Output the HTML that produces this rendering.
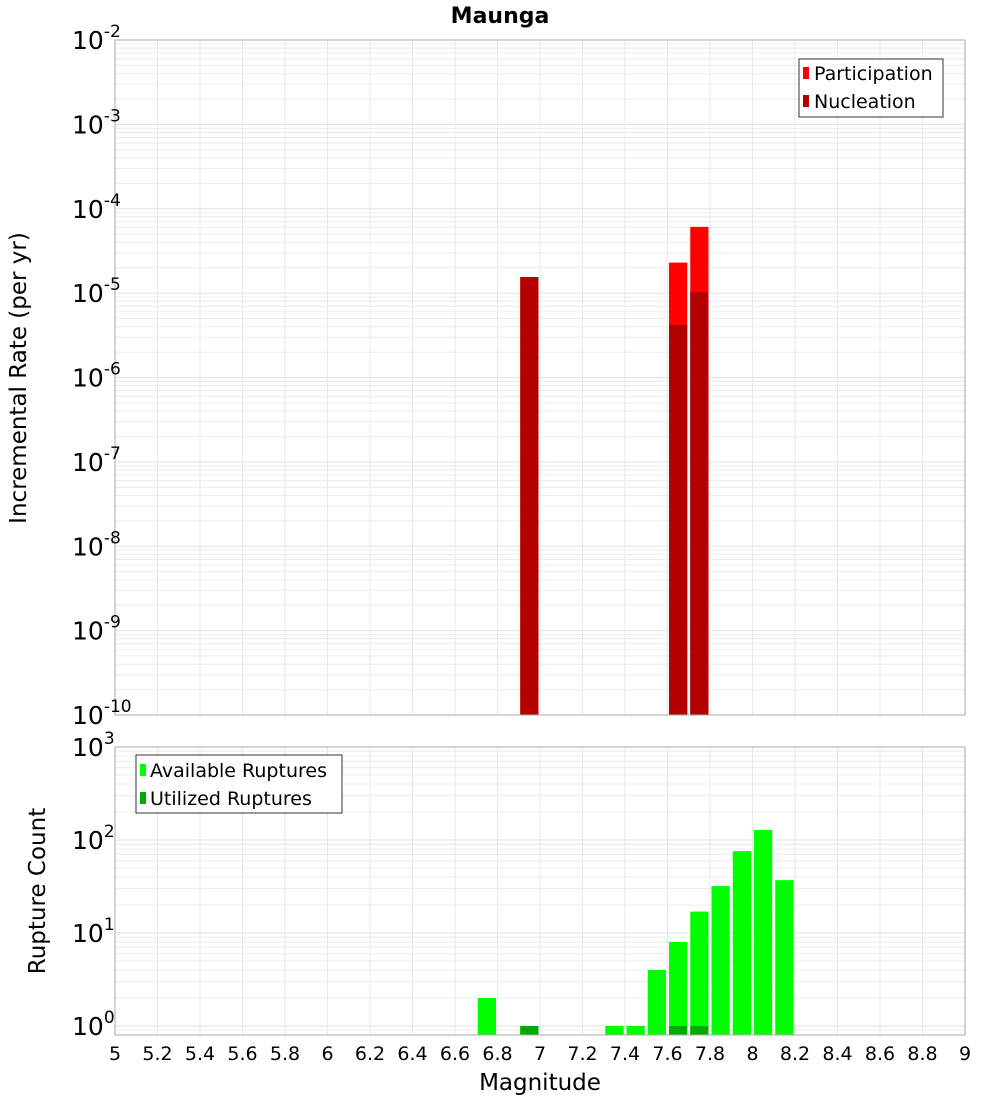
<!DOCTYPE html>
<html><head><meta charset="utf-8"><style>
body{margin:0;background:#fff;font-family:"Liberation Sans","DejaVu Sans",sans-serif;}
svg text{font-family:"DejaVu Sans","Liberation Sans",sans-serif;}
</style></head><body>
<svg id="chart" width="1000" height="1100" xmlns="http://www.w3.org/2000/svg">
<rect width="1000" height="1100" fill="#fff"/>
<text x="500" y="23" text-anchor="middle" font-size="22" font-weight="bold">Maunga</text>
<g id="top"></g><g id="bot"></g>
</svg>
<script>
const topMags=[6.95,7.65,7.75];
const participation=[1.55e-5,2.3e-5,6.1e-5];
const nucleation=[1.55e-5,4.2e-6,1.03e-5];
const botMags=[6.75,6.95,7.35,7.45,7.55,7.65,7.75,7.85,7.95,8.05,8.15];
const available=[2,1,1,1,4,8,17,32,76,128,37];
const utilMags=[6.95,7.65,7.75];
const utilized=[1,1,1];
const xTicks=["5","5.2","5.4","5.6","5.8","6","6.2","6.4","6.6","6.8","7","7.2","7.4","7.6","7.8","8","8.2","8.4","8.6","8.8","9"];

const NS="http://www.w3.org/2000/svg";
const svg=document.getElementById('chart');
function mk(tag,attrs,parent,text){const e=document.createElementNS(NS,tag);for(const k in attrs)e.setAttribute(k,attrs[k]);if(text!==undefined)e.textContent=text;(parent||svg).appendChild(e);return e;}
const X0=115,X1=965;
const x=m=>X0+(m-5)/4*(X1-X0);

function panel(g,top,bot,eMin,eMax,yBottom){
  const y=v=>bot-(Math.log10(v)-eMin)/(eMax-eMin)*(bot-top);
  const plotBottom=yBottom;
  for(let e=eMin-1;e<eMax;e++)for(let k=1;k<10;k++){const v=k*Math.pow(10,e);const yy=y(v);if(yy<top-0.5||yy>plotBottom)continue;
    const l=mk('line',{x1:X0,x2:X1,y1:yy,y2:yy,stroke:k==1?'#e2e2e2':'#ececec','stroke-width':1},g);
    
    }
  for(let i=0;i<xTicks.length;i++){const xx=x(+xTicks[i]);
    const l=mk('line',{x1:xx,x2:xx,y1:top,y2:plotBottom,stroke:'#e8e8e8','stroke-width':1},g);
    
    }
  return y;
}

const gT=document.getElementById('top');

const yT=panel(gT,40,715,-10,-2,715);
const bw=x(5.1)-x(5)-3;
participation.forEach((v,i)=>{const r=mk('rect',{x:x(topMags[i]-0.05)+1.5,y:yT(v),width:bw,height:715-yT(v),fill:'#ff0000'},gT);
  
  });
nucleation.forEach((v,i)=>{const r=mk('rect',{x:x(topMags[i]-0.05)+1.5,y:yT(v),width:bw,height:715-yT(v),fill:'#b30000'},gT);
  
  });
mk('rect',{x:X0,y:40,width:X1-X0,height:675,fill:'none',stroke:'#aaa'},gT);
for(let e=-10;e<=-2;e++){const yy=yT(Math.pow(10,e));
  const t=mk('text',{x:72,y:yy+9,'font-size':25},gT,'10');
  
  mk('tspan',{dy:-12,'font-size':17},t,String(e));}
const yl=mk('text',{x:0,y:0,'font-size':23,'text-anchor':'middle',transform:'translate(26,378) rotate(-90)'},gT,'Incremental Rate (per yr)');

const lg=mk('g',{},gT);
mk('rect',{x:799,y:59,width:144,height:58,fill:'#fff',stroke:'#333'},lg);
mk('rect',{x:803,y:67,width:6,height:12,fill:'#ff0000'},lg);
mk('text',{x:814,y:80,'font-size':19},lg,'Participation');
mk('rect',{x:803,y:95,width:6,height:12,fill:'#b30000'},lg);
mk('text',{x:814,y:108,'font-size':19},lg,'Nucleation');

const gB=document.getElementById('bot');

const B0=1026,dec=93;
const yB=v=>B0-Math.log10(v)*dec;
panel(gB,747,B0,0,3,1035);
available.forEach((v,i)=>{const r=mk('rect',{x:x(botMags[i]-0.05)+1.5,y:yB(v),width:bw,height:1035-yB(v),fill:'#00ff00'},gB);
  
  });
utilized.forEach((v,i)=>{const r=mk('rect',{x:x(utilMags[i]-0.05)+1.5,y:yB(v),width:bw,height:1035-yB(v),fill:'#00aa00'},gB);
  
  });
mk('rect',{x:X0,y:747,width:X1-X0,height:288,fill:'none',stroke:'#aaa'},gB);
for(let e=0;e<=3;e++){const yy=yB(Math.pow(10,e));
  const t=mk('text',{x:72,y:yy+9,'font-size':25},gB,'10');
  
  mk('tspan',{dy:-12,'font-size':17},t,String(e));}
xTicks.forEach(s=>{const t=mk('text',{x:x(+s),y:1060,'font-size':19,'text-anchor':'middle'},gB,s);
  });
const yl2=mk('text',{x:0,y:0,'font-size':23,'text-anchor':'middle',transform:'translate(45,891) rotate(-90)'},gB,'Rupture Count');

const xl=mk('text',{x:540,y:1090,'font-size':23,'text-anchor':'middle'},gB,'Magnitude');

const lg2=mk('g',{},gB);
mk('rect',{x:136,y:755,width:206,height:58,fill:'#fff',stroke:'#333'},lg2);
mk('rect',{x:140,y:764,width:6,height:12,fill:'#00ff00'},lg2);
mk('text',{x:150,y:777,'font-size':19},lg2,'Available Ruptures');
mk('rect',{x:140,y:792,width:6,height:12,fill:'#00aa00'},lg2);
mk('text',{x:150,y:805,'font-size':19},lg2,'Utilized Ruptures');
</script>
</body></html>
